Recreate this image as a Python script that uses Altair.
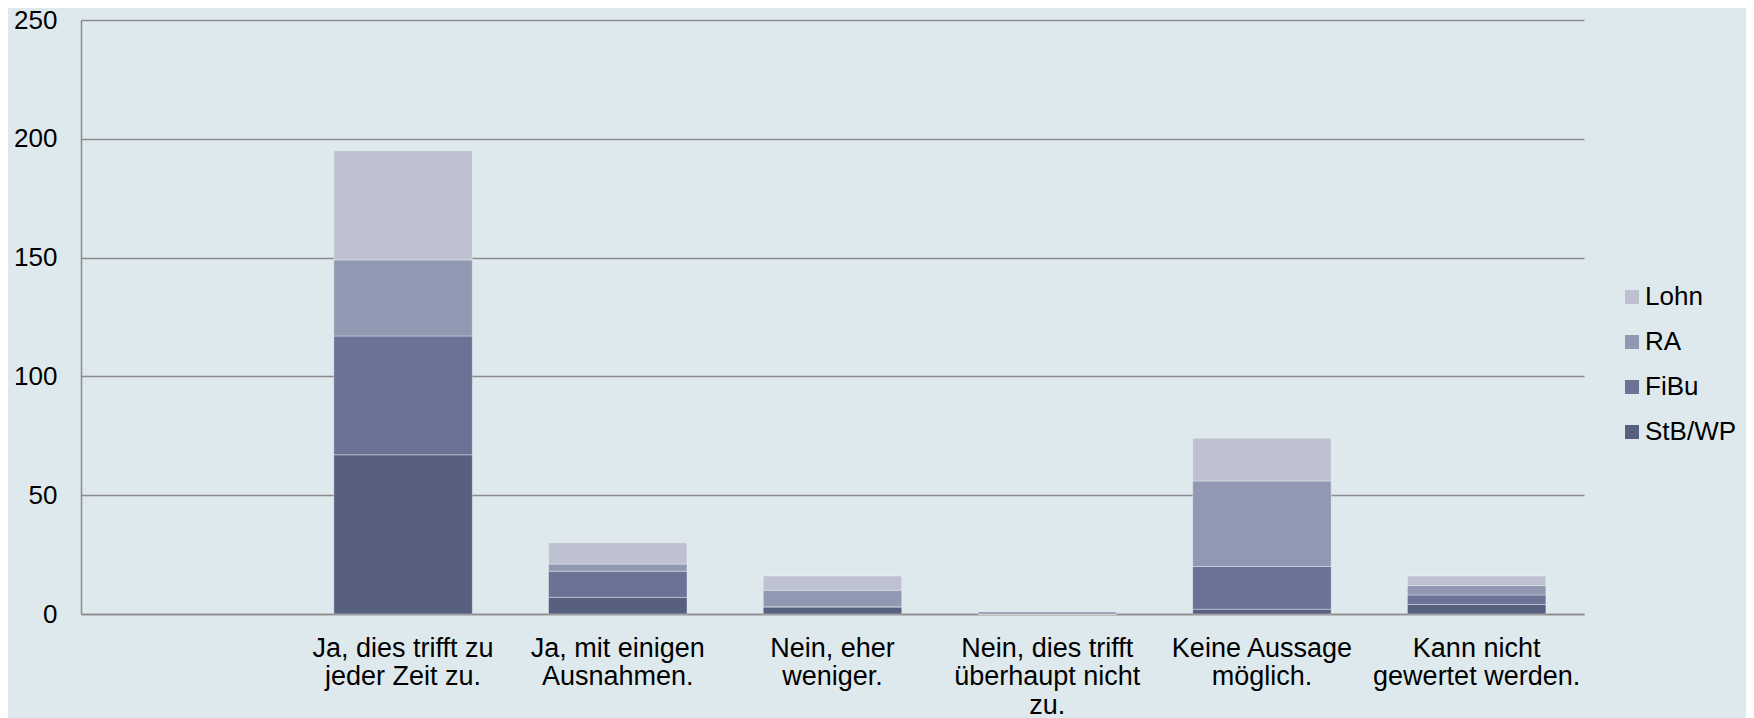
import altair as alt
import pandas as pd

categories = [
    " ",
    "Ja, dies trifft zu\njeder Zeit zu.",
    "Ja, mit einigen\nAusnahmen.",
    "Nein, eher\nweniger.",
    "Nein, dies trifft\nüberhaupt nicht\nzu.",
    "Keine Aussage\nmöglich.",
    "Kann nicht\ngewertet werden.",
]
bar_categories = categories[1:]

series_names = ["Lohn", "RA", "FiBu", "StB/WP"]
series_colors = ["#BEC1CF", "#9198B2", "#6A7396", "#57607E"]
stack_order = {"StB/WP": 0, "FiBu": 1, "RA": 2, "Lohn": 3}

stb = [67, 7, 3, 0, 2, 4]
fibu = [50, 11, 0, 0, 18, 4]
ra = [32, 3, 7, 1, 36, 4]
lohn = [46, 9, 6, 0, 18, 4]

values = {"StB/WP": stb, "FiBu": fibu, "RA": ra, "Lohn": lohn}

rows = []
for s, vals in values.items():
    for c, v in zip(bar_categories, vals):
        rows.append({"cat": c, "series": s, "value": v, "ord": stack_order[s]})
df = pd.DataFrame(rows)

y_ticks = [0, 50, 100, 150, 200, 250]

chart = (
    alt.Chart(df)
    .mark_bar(stroke="#ffffff", strokeOpacity=0.35, strokeWidth=1)
    .encode(
        x=alt.X(
            "cat:N",
            sort=categories,
            scale=alt.Scale(domain=categories, paddingInner=0.355, paddingOuter=0.1775),
            axis=alt.Axis(
                title=None,
                labelAngle=0,
                labelExpr="split(datum.label, '\\n')",
                labelFont="Liberation Sans",
                labelFontSize=27,
                labelLineHeight=28.6,
                labelColor="#000000",
                labelPadding=21,
                labelLimit=0,
                labelOverlap=False,
                labelFlush=False,
                labelBaseline="top",
                ticks=False,
                domain=True,
                domainColor="#8c8c8c",
                domainWidth=1.5,
                grid=False,
            ),
        ),
        y=alt.Y(
            "value:Q",
            stack="zero",
            scale=alt.Scale(domain=[0, 250], nice=False),
            axis=alt.Axis(
                title=None,
                values=y_ticks,
                labelFont="Liberation Sans",
                labelFontSize=26,
                labelColor="#000000",
                labelPadding=24,
                ticks=False,
                domain=True,
                domainColor="#8c8c8c",
                domainWidth=1.5,
                grid=True,
                gridColor="#8c8c8c",
                gridWidth=1.5,
            ),
        ),
        color=alt.Color(
            "series:N",
            scale=alt.Scale(domain=series_names, range=series_colors),
            legend=alt.Legend(
                title=None,
                orient="none",
                legendX=1538,
                legendY=264,
                symbolType="square",
                symbolSize=196,
                symbolStrokeWidth=0,
                labelFont="Liberation Sans",
                labelFontSize=26,
                labelColor="#000000",
                labelOffset=0,
                rowPadding=19,
                labelLimit=0,
            ),
        ),
        order=alt.Order("ord:Q", sort="ascending"),
    )
    .properties(
        width=1503,
        height=594,
        background="#DEE9ED",
        padding={"left": 73, "top": 12, "right": 162, "bottom": 104},
        autosize=alt.AutoSizeParams(type="none"),
    )
    .configure_view(stroke=None, fill="#DEE9ED")
)

chart.save("out.html", embed_options={"renderer": "svg", "actions": False})
